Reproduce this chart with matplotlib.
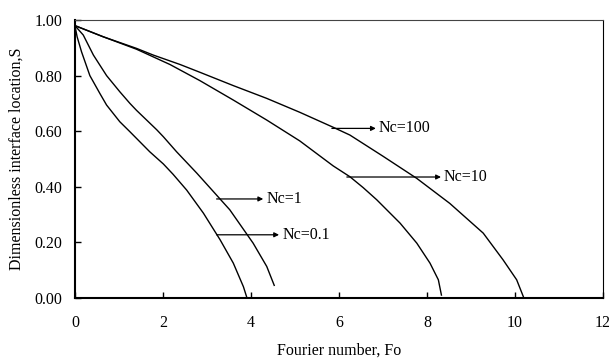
import matplotlib
matplotlib.use('Agg')
from matplotlib import pyplot as plt

# Curves: Fourier number vs. interface location
fo_nc01 = [0.0, 0.05, 0.15, 0.34, 0.57, 0.72, 1.02, 1.25, 1.40, 1.70, 2.01, 2.23, 2.54, 2.92, 3.30, 3.60, 3.83, 3.90]
s_nc01 = [0.98, 0.94, 0.886, 0.80, 0.735, 0.694, 0.634, 0.598, 0.574, 0.526, 0.482, 0.445, 0.388, 0.305, 0.209, 0.125, 0.04, 0.005]

fo_nc1 = [0.0, 0.19, 0.42, 0.72, 1.02, 1.25, 1.40, 1.86, 2.01, 2.31, 2.77, 3.52, 4.05, 4.36, 4.53]
s_nc1 = [0.98, 0.946, 0.874, 0.80, 0.742, 0.70, 0.675, 0.605, 0.58, 0.526, 0.449, 0.317, 0.197, 0.113, 0.045]

fo_nc10 = [0.0, 0.64, 1.40, 2.16, 2.84, 3.60, 4.36, 5.11, 5.87, 6.25, 6.55, 6.86, 7.39, 7.77, 8.07, 8.26, 8.33]
s_nc10 = [0.98, 0.94, 0.895, 0.84, 0.782, 0.712, 0.64, 0.565, 0.475, 0.436, 0.397, 0.353, 0.269, 0.197, 0.125, 0.065, 0.01]

fo_nc100 = [0.0, 0.64, 1.40, 1.78, 2.39, 2.84, 3.60, 4.36, 5.11, 5.87, 6.25, 7.0, 7.77, 8.52, 9.28, 9.73, 10.04, 10.19]
s_nc100 = [0.98, 0.94, 0.898, 0.874, 0.84, 0.812, 0.764, 0.718, 0.668, 0.614, 0.586, 0.51, 0.43, 0.34, 0.233, 0.137, 0.065, 0.005]

# annotation labels: (text, arrow start Fo, arrow end Fo, S)
labels = [('Nc=100', 5.84, 6.84, 0.61),
          ('Nc=10', 6.18, 8.32, 0.435),
          ('Nc=1', 3.22, 4.28, 0.356),
          ('Nc=0.1', 3.22, 4.64, 0.227)]

xticks = [0, 2, 4, 6, 8, 10, 12]
yticks = [0.0, 0.2, 0.4, 0.6, 0.8, 1.0]

plt.rcParams['font.family'] = ['Liberation Serif', 'DejaVu Serif']

fig = plt.figure(figsize=(6.09, 3.58), dpi=100)
ax = fig.add_axes([0.123, 0.168, 0.867, 0.776])

for fo, s in [(fo_nc01, s_nc01), (fo_nc1, s_nc1), (fo_nc10, s_nc10), (fo_nc100, s_nc100)]:
    ax.plot(fo, s, color='black', linewidth=1.0)

for text, x0, x1, y in labels:
    ax.annotate('', xy=(x1, y), xytext=(x0, y),
                arrowprops=dict(arrowstyle='-|>', color='black', lw=0.9,
                                mutation_scale=7, shrinkA=0, shrinkB=0))
    ax.text(x1 + 0.07, y, text, fontsize=11.5, va='center', ha='left')

ax.set_xlim(0, 12)
ax.set_ylim(0, 1.0)
ax.set_xticks(xticks)
ax.set_xticklabels([str(t) for t in xticks], fontsize=11.5)
ax.set_yticks(yticks)
ax.set_yticklabels(['%.2f' % t for t in yticks], fontsize=11.5)
ax.tick_params(direction='in', length=4, width=1.0)
ax.tick_params(axis='x', pad=12)
ax.tick_params(axis='y', pad=9)

ax.spines['left'].set_linewidth(1.5)
ax.spines['bottom'].set_linewidth(1.5)
ax.spines['top'].set_linewidth(0.8)
ax.spines['right'].set_linewidth(0.8)
ax.spines['top'].set_color('#444444')

ax.set_xlabel('Fourier number, Fo', fontsize=11.5, labelpad=9)
ax.set_ylabel('Dimensionless interface location,S', fontsize=11.5, labelpad=7)

fig.savefig('out.png', dpi=100)
